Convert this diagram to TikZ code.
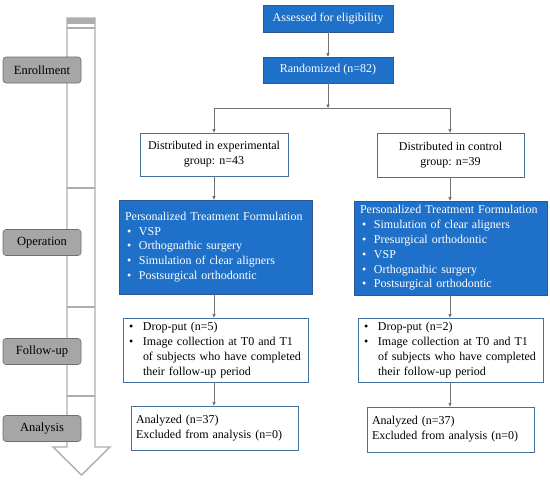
\documentclass[tikz,border=0pt]{standalone}
\usepackage{fontspec}
\setmainfont{Liberation Serif}
\usetikzlibrary{arrows.meta}
\definecolor{bluefill}{HTML}{1F70C8}
\definecolor{blueedge}{HTML}{2F5597}
\definecolor{boxedge}{HTML}{41719C}
\definecolor{stagefill}{HTML}{A6A6A6}
\definecolor{stageedge}{HTML}{6E6E6E}
\definecolor{shaft}{HTML}{AEAEAE}
\newcommand{\bptf}{\makebox[14pt][l]{\hspace{2pt}\textbullet}}
\newcommand{\bfol}{\makebox[16pt][l]{\hspace{2pt}\textbullet}}
\newcommand{\bfolc}{\makebox[16pt][l]{}}
\tikzset{
  bluebox/.style={draw=blueedge, fill=bluefill, text=white, line width=0.6pt, inner sep=0pt},
  whitebox/.style={draw=boxedge, fill=white, line width=0.8pt, inner sep=0pt},
  stagebox/.style={draw=stageedge, fill=stagefill, rounded corners=3pt, line width=0.6pt, minimum width=78pt, minimum height=26pt, font=\fontsize{12.5}{14}\selectfont},
  flow/.style={draw=black!55, line width=0.6pt, -{Triangle[length=3.5pt,width=3pt,fill=black!80]}},
  seg/.style={draw=shaft, line width=1.4pt},
  txt/.style={font=\fontsize{12}{14.8}\selectfont, text=black},
}
\begin{document}
\begin{tikzpicture}[x=1pt,y=-1pt]
\useasboundingbox (0,0) rectangle (550,480);
% --- left arrow ---
\draw[seg, fill=white, line join=miter] (67,18) -- (95,18) -- (95,447) -- (110,447) -- (81.5,475) -- (53,447) -- (67,447) -- cycle;
\fill[shaft] (67,18) rectangle (95,23.5);
\draw[seg] (67,28) -- (95,28);
\draw[seg] (67,188) -- (95,188);
\draw[seg] (67,307) -- (95,307);
\draw[seg] (67,396) -- (95,396);
\node[stagebox] (s1) at (42,70) {Enrollment};
\node[stagebox] (s2) at (42,242.5) {Operation};
\node[stagebox] (s3) at (42,351.5) {Follow-up};
\node[stagebox] (s4) at (42,428.5) {Analysis};
% --- top boxes ---
\node[bluebox, minimum width=130pt, minimum height=27pt, txt, text=white] (a) at (328,18.5) {Assessed for eligibility};
\node[bluebox, minimum width=130pt, minimum height=26pt, txt, text=white] (r) at (328,70) {Randomized (n=82)};
\coordinate (split) at (328,108);
\coordinate (sl) at (214,108);
\coordinate (sr) at (450,108);
\draw[flow] (a) -- (r);
\draw[flow] (r) -- (split);
\draw[draw=black!55, line width=0.6pt] (sl) -- (sr);
% --- distributed ---
\node[whitebox, minimum width=148pt, minimum height=43pt, align=center, txt] (d1) at (214,154.5) {Distributed in experimental\\group: n=43};
\node[whitebox, minimum width=147pt, minimum height=44pt, align=center, txt] (d2) at (450.5,155) {Distributed in control\\group: n=39};
\draw[flow] (sl) -- (d1);
\draw[flow] (sr) -- (d2.north -| sr);
% --- PTF ---
\node[bluebox, inner xsep=6pt, minimum width=193pt, minimum height=94pt, txt, text=white, align=left, text width=181pt] (p1) at (215.5,247) {\raisebox{0pt}[\height][0pt]{}Personalized Treatment Formulation\\
\bptf VSP\\
\bptf Orthognathic surgery\\
\bptf Simulation of clear aligners\\
\bptf Postsurgical orthodontic};
\node[bluebox, inner xsep=6pt, minimum width=193pt, minimum height=94pt, txt, text=white, align=left, text width=181pt] (p2) at (450.5,248) {Personalized Treatment Formulation\\
\bptf Simulation of clear aligners\\
\bptf Presurgical orthodontic\\
\bptf VSP\\
\bptf Orthognathic surgery\\
\bptf Postsurgical orthodontic};
\draw[flow] (d1) -- (d1 |- p1.north);
\draw[flow] (d2.south -| sr) -- (sr |- p2.north);
% --- follow-up ---
\node[whitebox, inner xsep=4pt, minimum width=185pt, minimum height=64pt, txt, align=left, text width=177pt] (f1) at (215.5,350) {\bfol Drop-put (n=5)\\
\bfol Image collection at T0 and T1\\
\bfolc of subjects who have completed\\
\bfolc their follow-up period};
\node[whitebox, inner xsep=4pt, minimum width=185pt, minimum height=64pt, txt, align=left, text width=177pt] (f2) at (450.5,350) {\bfol Drop-put (n=2)\\
\bfol Image collection at T0 and T1\\
\bfolc of subjects who have completed\\
\bfolc their follow-up period};
\draw[flow] (sl |- p1.south) -- (sl |- f1.north);
\draw[flow] (sr |- p2.south) -- (sr |- f2.north);
% --- analysis ---
\node[whitebox, inner xsep=5pt, minimum width=167pt, minimum height=44pt, txt, align=left, text width=157pt] (n1) at (214.5,428) {Analyzed (n=37)\\Excluded from analysis (n=0)};
\node[whitebox, inner xsep=5pt, minimum width=167pt, minimum height=45pt, txt, align=left, text width=157pt] (n2) at (450.5,429.5) {Analyzed (n=37)\\Excluded from analysis (n=0)};
\draw[flow] (sl |- f1.south) -- (sl |- n1.north);
\draw[flow] (sr |- f2.south) -- (sr |- n2.north);
\end{tikzpicture}
\end{document}
